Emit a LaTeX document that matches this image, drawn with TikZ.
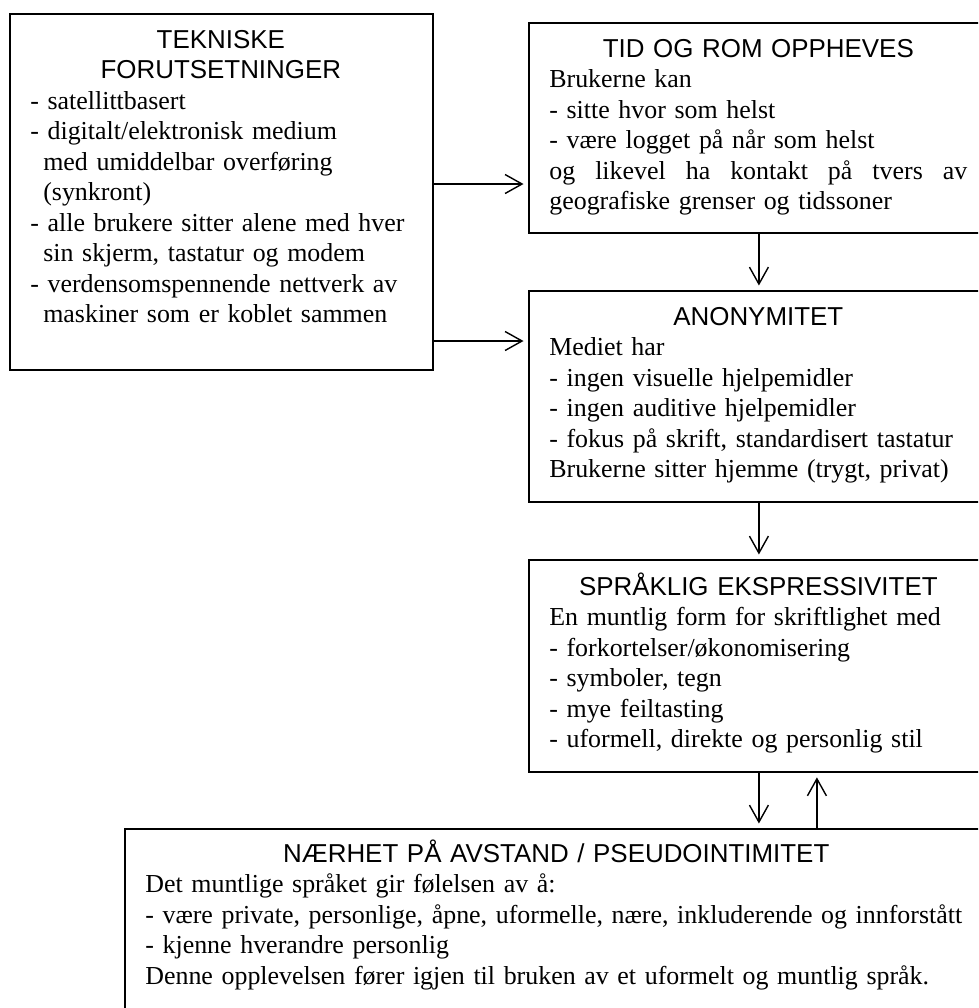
\documentclass[tikz,border=0pt]{standalone}
\usepackage{fontspec}
\setmainfont{Liberation Serif}
\setsansfont{Liberation Sans}
\usetikzlibrary{arrows.meta}
\newcommand{\boxtitle}[1]{\makebox[\linewidth]{\sffamily #1}}

\begin{document}
\begin{tikzpicture}[x=0.02cm, y=-0.02cm,
    box/.style={draw, line width=1.1pt, inner sep=0pt, anchor=north west},
    txt/.style={anchor=base west, inner sep=0pt, align=left,
      font=\fontsize{14.75pt}{17.36pt}\selectfont},
    arr/.style={-{Straight Barb[length=3.4mm, width=3.8mm]}, line width=0.8pt, shorten >=0.09cm}]
      \clip (0,0) rectangle (978,1008);
      \node[box, minimum width=8.46cm, minimum height=7.12cm] (tek) at (9,13) {};
      \node[box, minimum width=9.2cm, minimum height=4.2cm] (tid) at (528,22) {};
      \node[box, minimum width=9.2cm, minimum height=4.22cm] (anon) at (528,290) {};
      \node[box, minimum width=9.2cm, minimum height=4.24cm] (sprak) at (528,559) {};
      \node[box, minimum width=17.28cm, minimum height=4.4cm] (naer) at (124,828) {};

      \node[txt, text width=7.62cm] (tektxt) at ([shift={(21,35)}]tek.north west) {%
        \boxtitle{TEKNISKE}\\ \boxtitle{FORUTSETNINGER}\\
        - satellittbasert\\
        - digitalt/elektronisk medium\\
        \hspace*{0.5em}med umiddelbar overføring\\
        \hspace*{0.5em}(synkront)\\
        - alle brukere sitter alene med hver\\
        \hspace*{0.5em}sin skjerm, tastatur og modem\\
        - verdensomspennende nettverk av\\
        \hspace*{0.5em}maskiner som er koblet sammen};
      \node[txt, text width=8.36cm] (tidtxt) at ([shift={(21,35)}]tid.north west) {%
        \boxtitle{TID OG ROM OPPHEVES}\\
        Brukerne kan\\
        - sitte hvor som helst\\
        - være logget på når som helst\\
        \makebox[\linewidth][s]{og\hfill likevel\hfill ha\hfill kontakt\hfill på\hfill tvers\hfill av}\\
        geografiske grenser og tidssoner};
      \node[txt, text width=8.36cm] (anontxt) at ([shift={(21,35)}]anon.north west) {%
        \boxtitle{ANONYMITET}\\
        Mediet har\\
        - ingen visuelle hjelpemidler\\
        - ingen auditive hjelpemidler\\
        - fokus på skrift, standardisert tastatur\\
        Brukerne sitter hjemme (trygt, privat)};
      \node[txt, text width=8.36cm] (spraktxt) at ([shift={(21,36)}]sprak.north west) {%
        \boxtitle{SPRÅKLIG EKSPRESSIVITET}\\
        En muntlig form for skriftlighet med\\
        - forkortelser/økonomisering\\
        - symboler, tegn\\
        - mye feiltasting\\
        - uformell, direkte og personlig stil};
      \node[txt, text width=16.44cm] (naertxt) at ([shift={(21,34)}]naer.north west) {%
        \boxtitle{NÆRHET PÅ AVSTAND / PSEUDOINTIMITET}\\
        Det muntlige språket gir følelsen av å:\\
        \makebox[\linewidth][l]{- være private, personlige, åpne, uformelle, nære, inkluderende og innforstått}\\
        - kjenne hverandre personlig\\
        Denne opplevelsen fører igjen til bruken av et uformelt og muntlig språk.};

      \draw[arr] (tek.east |- 0,184) -- (tid.west |- 0,184);
      \draw[arr] (tek.east |- 0,341) -- (anon.west |- 0,341);
      \foreach \a/\b in {tid/anon, anon/sprak}
        \draw[arr] (\a.south) -- (\b.north);
      \draw[arr] (sprak.south) -- (sprak.south |- naer.north);
      \draw[arr] ([xshift=1.16cm]sprak.south |- naer.north) -- ([xshift=1.16cm]sprak.south);
    \end{tikzpicture}
\end{document}
